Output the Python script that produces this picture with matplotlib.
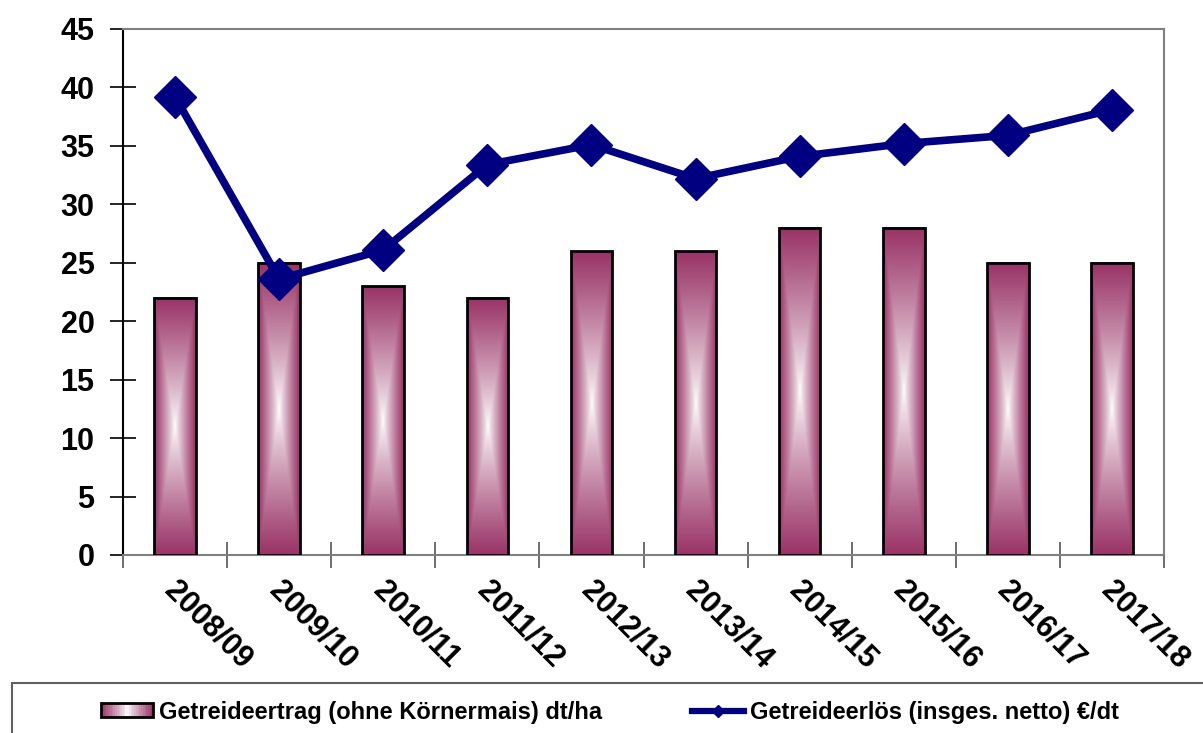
import matplotlib
matplotlib.use("Agg")
import matplotlib.pyplot as plt
import numpy as np
from matplotlib.patches import Rectangle
from matplotlib.lines import Line2D
from matplotlib.legend_handler import HandlerBase
from matplotlib.transforms import ScaledTranslation

# data
jahre = ['2008/09', '2009/10', '2010/11', '2011/12', '2012/13',
         '2013/14', '2014/15', '2015/16', '2016/17', '2017/18']
ertrag = [22, 25, 23, 22, 26, 26, 28, 28, 25, 25]
erloes = [39.2, 23.6, 26.1, 33.4, 35.1, 32.2, 34.1, 35.2, 35.9, 38.1]

lbl_ertrag = 'Getreideertrag (ohne Körnermais) dt/ha'
lbl_erloes = 'Getreideerlös (insges. netto) €/dt'

maroon = np.array([0.60, 0.20, 0.40])
navy = '#000080'

plt.rcParams['font.family'] = ['Liberation Sans', 'DejaVu Sans']
plt.rcParams['font.weight'] = 'bold'


def grad_img(nx=60, ny=200):
    # rectangular gradient, white in the middle, maroon at the border
    u = np.linspace(-1, 1, nx)
    v = np.linspace(-1, 1, ny)
    U, V = np.meshgrid(u, v)
    t = np.maximum(np.abs(U), np.abs(V)) ** 0.85
    img = (1 - t)[..., None] * np.ones(3) + t[..., None] * maroon
    return img


class GradHandler(HandlerBase):
    def create_artists(self, legend, orig_handle, xdescent, ydescent,
                       width, height, fontsize, trans):
        arts = []
        n = 30
        for i in range(n):
            t = abs((i + 0.5) / n * 2 - 1) ** 0.85
            c = (1 - t) * np.ones(3) + t * maroon
            r = Rectangle((-xdescent + i * width / n, -ydescent), width / n * 1.05, height,
                          facecolor=c, edgecolor='none', transform=trans)
            arts.append(r)
        arts.append(Rectangle((-xdescent, -ydescent), width, height, facecolor='none',
                              edgecolor='black', lw=2, transform=trans))
        return arts


fig = plt.figure(figsize=(12.03, 7.33), dpi=100)
ax = fig.add_axes([123 / 1203, 1 - 555 / 733, (1164 - 123) / 1203, (555 - 29) / 733])

x = np.arange(len(jahre))
bars = ax.bar(x, ertrag, width=0.4, facecolor='none', edgecolor='black', lw=2, zorder=3)
img = grad_img()
for b in bars:
    x0, y0 = b.get_x(), b.get_y()
    ax.imshow(img, extent=[x0, x0 + b.get_width(), y0, y0 + b.get_height()],
              aspect='auto', interpolation='bilinear', zorder=2, clip_path=b)

ax.plot(x, erloes, color=navy, lw=5.5, marker='D', markersize=21, zorder=4)

ax.set_xlim(-0.5, len(jahre) - 0.5)
ax.set_ylim(0, 45)
ax.set_yticks(np.arange(0, 46, 5))
ax.tick_params(axis='y', direction='inout', length=19, width=1.2, labelsize=22, pad=11)

ax.set_xticks(x, jahre, rotation=-45, ha='left', va='top', rotation_mode='anchor', fontsize=22)
ax.set_xticks(np.arange(-0.5, len(jahre), 1), minor=True)
ax.tick_params(axis='x', which='major', length=0, pad=15)
ax.tick_params(axis='x', which='minor', direction='inout', length=19, width=1.2, color='#555555')
off = ScaledTranslation(5 / 100, 0, fig.dpi_scale_trans)
for lab in ax.get_xticklabels():
    lab.set_transform(lab.get_transform() + off)

for s in ['top', 'right', 'bottom']:
    ax.spines[s].set_color('#808080')
    ax.spines[s].set_linewidth(1.5)
ax.spines['left'].set_color('black')
ax.spines['left'].set_linewidth(1.5)

# legend box at the bottom
fig.patches.append(Rectangle((12 / 1203, -0.1), 1.2, (733 - 683) / 733 + 0.1,
                             transform=fig.transFigure, fill=False,
                             edgecolor='#606060', lw=1.5))
h_bar = Rectangle((0, 0), 1, 1)
h_line = Line2D([], [], color=navy, lw=4.5, marker='D', markersize=6)
fig.legend([h_bar, h_line], [lbl_ertrag, lbl_erloes], ncol=2, frameon=False,
           loc='center', bbox_to_anchor=(610 / 1203, 1 - 712 / 733),
           handler_map={Rectangle: GradHandler()}, fontsize=17,
           handlelength=2.2, handleheight=0.55, handletextpad=0.25, columnspacing=3.8)

fig.savefig('out.png', dpi=100)
